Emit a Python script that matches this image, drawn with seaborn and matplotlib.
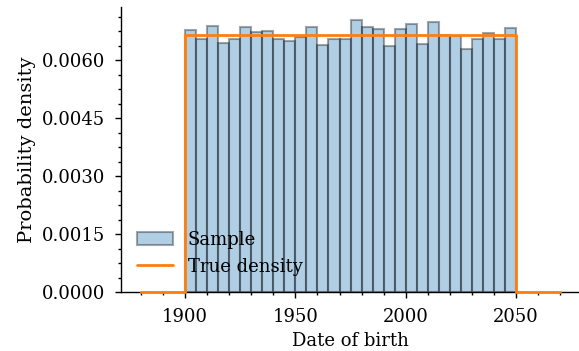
import pandas as pd
import seaborn as sns
import matplotlib.pyplot as plt
from matplotlib.ticker import AutoMinorLocator, MultipleLocator

sns.set_style("ticks")
plt.rcParams['font.family'] = ['DejaVu Serif']
plt.rcParams['font.size'] = 13
plt.rcParams['text.color'] = 'black'
plt.rcParams['axes.labelcolor'] = 'black'
plt.rcParams['xtick.color'] = 'black'
plt.rcParams['ytick.color'] = 'black'
plt.rc("axes.spines", top=False, right=False)

# histogram of the sample: 30 bins, 5 years wide, 1900-2050
bin_edges = list(range(1900, 2051, 5))
bin_heights = [0.00679, 0.00654, 0.00690, 0.00644, 0.00656, 0.00686,
               0.00673, 0.00675, 0.00656, 0.00649, 0.00661, 0.00686,
               0.00640, 0.00654, 0.00656, 0.00704, 0.00686, 0.00681,
               0.00638, 0.00681, 0.00694, 0.00643, 0.00700, 0.00666,
               0.00664, 0.00630, 0.00655, 0.00670, 0.00655, 0.00683]

# true (uniform) density
true_x = [1880, 1900, 1900, 2050, 2050, 2070]
true_y = [0, 0, 1/150, 1/150, 0, 0]

hist_df = pd.DataFrame({
    'year': [(a + b) / 2 for a, b in zip(bin_edges[:-1], bin_edges[1:])],
    'density': bin_heights,
})

fig, ax = plt.subplots(figsize=(5.79, 3.51), dpi=100)
fig.subplots_adjust(left=121/579, right=1.0, top=1-7/351, bottom=1-292/351)

sns.histplot(data=hist_df, x='year', weights='density', bins=bin_edges,
             stat='count', facecolor=(0.122, 0.467, 0.706, 0.35),
             edgecolor=(0, 0, 0, 0.35), linewidth=1.5, label='Sample', ax=ax)
ax.plot(true_x, true_y, color='C1', linewidth=2, label='True density',
        clip_on=False, zorder=3)

ax.set_xlim(1871, 2078.5)
ax.set_ylim(0, 0.00738)
ax.yaxis.set_major_locator(MultipleLocator(0.0015))
ax.yaxis.set_minor_locator(AutoMinorLocator(4))
ax.xaxis.set_major_locator(MultipleLocator(50))
ax.xaxis.set_minor_locator(AutoMinorLocator(5))
ax.tick_params(which='both', color='black', width=1)
ax.tick_params(which='major', length=4.5, pad=7)
ax.tick_params(which='minor', length=2.5)
for s in ['left', 'bottom']:
    ax.spines[s].set_color('black')
    ax.spines[s].set_linewidth(1)

ax.set_xlabel('Date of birth')
ax.set_ylabel('Probability density', fontsize=14)
handles, labels = ax.get_legend_handles_labels()
order = [labels.index('Sample'), labels.index('True density')]
ax.legend([handles[i] for i in order], [labels[i] for i in order],
          loc='lower left', frameon=False)

fig.savefig('out.png', dpi=100)
